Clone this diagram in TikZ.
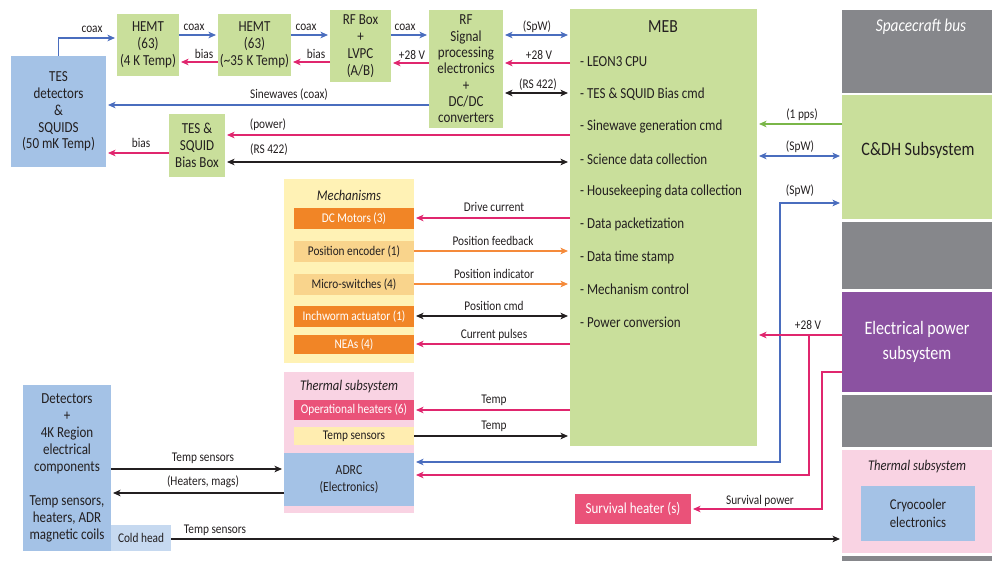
\documentclass[tikz,border=0pt]{standalone}
\usepackage{fontspec}
\setmainfont{Carlito}[FakeStretch=0.85]
\usetikzlibrary{arrows.meta,calc}
\definecolor{txt}{HTML}{231F20}
\definecolor{grnbx}{HTML}{C9DF9B}
\definecolor{bluebx}{HTML}{A4C2E6}
\definecolor{coldbx}{HTML}{C6D9F0}
\definecolor{bluew}{HTML}{4A6DBE}
\definecolor{redw}{HTML}{E0266E}
\definecolor{orgw}{HTML}{F58A3A}
\definecolor{grnw}{HTML}{7AB648}
\definecolor{orgbx}{HTML}{F18526}
\definecolor{lorg}{HTML}{F9D48C}
\definecolor{ylwbg}{HTML}{FFF2B5}
\definecolor{ylwbx}{HTML}{FFEDB0}
\definecolor{pinkbg}{HTML}{F9D3E3}
\definecolor{redbx}{HTML}{EA5279}
\definecolor{scgray}{HTML}{86878B}
\definecolor{purp}{HTML}{8B52A1}
\newcommand\bodyf{\fontsize{15.3}{16.8}\selectfont}
\newcommand\lblf{\fontsize{13.3}{15}\selectfont}
\newcommand\itf{\fontsize{14.8}{17}\selectfont\itshape}
\newcommand\bigf{\fontsize{19}{25}\selectfont}
\newcommand\titlef{\fontsize{18.5}{22}\selectfont}
\tikzset{
  box/.style={inner sep=0pt,outer sep=0pt,align=center,anchor=north west,text=txt,font=\bodyf},
  lbl/.style={inner sep=0pt,text=txt,font=\lblf},
  wire/.style={line width=1.4pt},
  aend/.style={-{Stealth[length=7.5pt,width=6.5pt,inset=2pt]},shorten >=2pt},
  aboth/.style={{Stealth[length=7.5pt,width=6.5pt,inset=2pt]}-{Stealth[length=7.5pt,width=6.5pt,inset=2pt]},shorten >=2pt,shorten <=2pt},
}
\begin{document}
\begin{tikzpicture}[x=1pt,y=-1pt]
\useasboundingbox (0,0) rectangle (992,561);
\begin{scope}
\clip (0,0) rectangle (992,561);
% ---------- top chain
\node[box,fill=bluebx,minimum width=95,minimum height=111] (tes) at (11,56) {TES\\detectors\\\&\\SQUIDS\\(50 mK Temp)};
\node[box,fill=grnbx,minimum width=62,minimum height=62] (hemt1) at (117,14) {HEMT\\(63)\\(4 K Temp)};
\node[box,fill=grnbx,minimum width=73,minimum height=62] (hemt2) at (218,14) {HEMT\\(63)\\(\textasciitilde35 K Temp)};
\node[box,fill=grnbx,minimum width=61,minimum height=72] (rfbox) at (330,10) {RF Box\\+\\LVPC\\(A/B)};
\node[box,fill=grnbx,minimum width=74,minimum height=118,font=\fontsize{15.3}{16.3}\selectfont] (rfsig) at (429,10) {RF\\Signal\\processing\\electronics\\+\\DC/DC\\converters};
\node[box,fill=grnbx,minimum width=56,minimum height=63] (biasbox) at (169,114) {TES \&\\SQUID\\Bias Box};
% ---------- MEB
\node[box,fill=grnbx,minimum width=187,minimum height=437] (meb) at (570,9) {};
\node[lbl,font=\titlef] (mebt) at (663,27) {MEB};
\node[lbl,font=\bodyf,anchor=west] (m1) at (580,62) {- LEON3 CPU};
\node[lbl,font=\bodyf,anchor=west] (m2) at (580,94.5) {- TES \& SQUID Bias cmd};
\node[lbl,font=\bodyf,anchor=west] (m3) at (580,127) {- Sinewave generation cmd};
\node[lbl,font=\bodyf,anchor=west] (m4) at (580,159.5) {- Science data collection};
\node[lbl,font=\bodyf,anchor=west] (m5) at (580,192) {- Housekeeping data collection};
\node[lbl,font=\bodyf,anchor=west] (m6) at (580,224.5) {- Data packetization};
\node[lbl,font=\bodyf,anchor=west] (m7) at (580,257) {- Data time stamp};
\node[lbl,font=\bodyf,anchor=west] (m8) at (580,289.5) {- Mechanism control};
\node[lbl,font=\bodyf,anchor=west] (m9) at (580,322) {- Power conversion};
% ---------- spacecraft bus
\node[box,fill=scgray,minimum width=150,minimum height=83] (sc1) at (842,10) {};
\node[lbl,font=\fontsize{18}{20}\selectfont\itshape,text=white] (sct) at (921,27) {Spacecraft bus};
\node[box,fill=grnbx,minimum width=150,minimum height=124] (cdh) at (842,95) {};
\node[lbl,font=\bigf] (cdht) at (918,150) {C\&DH Subsystem};
\node[box,fill=scgray,minimum width=150,minimum height=67] (sc2) at (842,222) {};
\node[box,fill=purp,minimum width=150,minimum height=100,text=white,font=\bigf] (eps) at (842,292) {Electrical power\\subsystem};
\node[box,fill=scgray,minimum width=150,minimum height=52] (sc3) at (842,395) {};
\node[box,fill=pinkbg,minimum width=150,minimum height=103] (therm2) at (842,450) {};
\node[lbl,font=\itf] (th2t) at (917,467) {Thermal subsystem};
\node[box,fill=bluebx,minimum width=114,minimum height=55,font=\fontsize{15}{18}\selectfont] (cryo) at (861,486) {Cryocooler\\electronics};
\node[box,fill=scgray,minimum width=150,minimum height=10] (sc4) at (842,556) {};
% ---------- mechanisms
\node[box,fill=ylwbg,minimum width=130,minimum height=184] (mech) at (284,179) {};
\node[lbl,font=\itf] (mecht) at (349,195) {Mechanisms};
\node[box,fill=orgbx,text=white,font=\lblf,minimum width=120,minimum height=21] (dcm) at (294,208) {DC Motors (3)};
\node[box,fill=lorg,font=\lblf,minimum width=120,minimum height=21] (penc) at (294,241) {Position encoder (1)};
\node[box,fill=lorg,font=\lblf,minimum width=120,minimum height=21] (msw) at (294,274) {Micro-switches (4)};
\node[box,fill=orgbx,text=white,font=\lblf,minimum width=120,minimum height=21] (inch) at (294,306) {Inchworm actuator (1)};
\node[box,fill=orgbx,text=white,font=\lblf,minimum width=120,minimum height=19] (neas) at (294,335) {NEAs (4)};
% ---------- thermal subsystem
\node[box,fill=pinkbg,minimum width=130,minimum height=141] (therm) at (284,372) {};
\node[lbl,font=\itf] (thermt) at (349,387) {Thermal subsystem};
\node[box,fill=redbx,text=white,font=\lblf,minimum width=120,minimum height=20] (oph) at (294,400) {Operational heaters (6)};
\node[box,fill=ylwbx,font=\lblf,minimum width=120,minimum height=18] (tsens) at (294,427) {Temp sensors};
\node[box,fill=bluebx,font=\fontsize{13.8}{17}\selectfont,minimum width=130,minimum height=53] (adrc) at (284,453) {ADRC\\(Electronics)};
% ---------- detectors
\node[box,fill=bluebx,minimum width=88,minimum height=166,font=\fontsize{15.3}{17}\selectfont] (det) at (23,385) {Detectors\\+\\4K Region\\electrical\\components\\[17pt]Temp sensors,\\heaters, ADR\\magnetic coils};
\node[box,fill=coldbx,font=\lblf,minimum width=60,minimum height=26] (cold) at (111,525) {Cold head};
\node[box,fill=redbx,text=white,minimum width=116,minimum height=30] (surv) at (575,494) {Survival heater (s)};
% ---------- junction coordinates
\coordinate (spwc) at (780,203);
\coordinate (pj) at (809,335);
\coordinate (sv) at (822,372);
% ---------- connectors
\draw[wire,bluew,aend] (tes.north) |- (hemt1.west |- 0,38);
\draw[wire,bluew,aend] (hemt1.east |- 0,35) -- (hemt2.west |- 0,35);
\draw[wire,redw,aend] (hemt2.west |- 0,62) -- (hemt1.east |- 0,62);
\draw[wire,bluew,aend] (hemt2.east |- 0,35) -- (rfbox.west |- 0,35);
\draw[wire,redw,aend] (rfbox.west |- 0,62) -- (hemt2.east |- 0,62);
\draw[wire,bluew,aend] (rfbox.east |- 0,35) -- (rfsig.west |- 0,35);
\draw[wire,redw,aend] (rfsig.west |- 0,63) -- (rfbox.east |- 0,63);
\draw[wire,bluew,aboth] (rfsig.east |- 0,35) -- (meb.west |- 0,35);
\draw[wire,redw,aend] (meb.west |- 0,63) -- (rfsig.east |- 0,63);
\draw[wire,txt,aboth] (rfsig.east |- 0,93) -- (meb.west |- 0,93);
\draw[wire,bluew,aend] (rfsig.west |- 0,105) -- (tes.east |- 0,105);
\draw[wire,redw,aend] (meb.west |- 0,135) -- (biasbox.east |- 0,135);
\draw[wire,txt,aboth] (biasbox.east |- 0,162) -- (meb.west |- 0,162);
\draw[wire,redw,aend] (biasbox.west |- 0,153) -- (tes.east |- 0,153);
\draw[wire,grnw,aend] (cdh.west |- 0,124) -- (meb.east |- 0,124);
\draw[wire,bluew,aboth] (meb.east |- 0,156) -- (cdh.west |- 0,156);
\draw[wire,bluew,aboth] (adrc.east |- 0,462) -| (spwc) -- (cdh.west |- spwc);
\draw[wire,redw,aend] (eps.west |- pj) -- (meb.east |- pj);
\draw[wire,redw,aend] (pj) |- (adrc.east |- 0,475);
\draw[wire,redw,aend] (eps.west |- sv) -- (sv) |- (surv.east |- 0,509);
\draw[wire,redw,aend] (meb.west |- 0,218) -- (dcm.east |- 0,218);
\draw[wire,orgw,aend] (penc.east |- 0,251) -- (meb.west |- 0,251);
\draw[wire,orgw,aend] (msw.east |- 0,284) -- (meb.west |- 0,284);
\draw[wire,txt,aboth] (inch.east |- 0,316) -- (meb.west |- 0,316);
\draw[wire,redw,aend] (meb.west |- 0,344) -- (neas.east |- 0,344);
\draw[wire,redw,aend] (meb.west |- 0,410) -- (oph.east |- 0,410);
\draw[wire,txt,aend] (tsens.east |- 0,436) -- (meb.west |- 0,436);
\draw[wire,txt,aend] (det.east |- 0,469) -- (adrc.west |- 0,469);
\draw[wire,txt,aend] (adrc.west |- 0,493) -- (det.east |- 0,493);
\draw[wire,txt,aend] (cold.east |- 0,539) -- (therm2.west |- 0,539);
% ---------- labels
\node[lbl] (l1) at (92,29) {coax};
\node[lbl] (l2) at (194,27) {coax};
\node[lbl] (l3) at (204,54) {bias};
\node[lbl] (l4) at (306,27) {coax};
\node[lbl] (l5) at (316,54) {bias};
\node[lbl] (l6) at (405,27) {coax};
\node[lbl] (l7) at (412,55) {+28 V};
\node[lbl] (l8) at (537,27) {(SpW)};
\node[lbl] (l9) at (539,55) {+28 V};
\node[lbl] (l10) at (538,85) {(RS 422)};
\node[lbl] (l11) at (289,95) {Sinewaves (coax)};
\node[lbl] (l12) at (268,125) {(power)};
\node[lbl] (l13) at (269,150) {(RS 422)};
\node[lbl] (l14) at (141,143) {bias};
\node[lbl] (l15) at (802,115) {(1 pps)};
\node[lbl] (l16) at (800,147) {(SpW)};
\node[lbl] (l17) at (800,191) {(SpW)};
\node[lbl] (l18) at (808,325) {+28 V};
\node[lbl] (l19) at (760,501) {Survival power};
\node[lbl] (l20) at (494,207) {Drive current};
\node[lbl] (l21) at (493,241) {Position feedback};
\node[lbl] (l22) at (494,274) {Position indicator};
\node[lbl] (l23) at (494,306) {Position cmd};
\node[lbl] (l24) at (494,335) {Current pulses};
\node[lbl] (l25) at (494,400) {Temp};
\node[lbl] (l26) at (494,426) {Temp};
\node[lbl] (l27) at (203,458) {Temp sensors};
\node[lbl] (l28) at (203,482) {(Heaters, mags)};
\node[lbl] (l29) at (215,530) {Temp sensors};
\end{scope}
\end{tikzpicture}
\end{document}
